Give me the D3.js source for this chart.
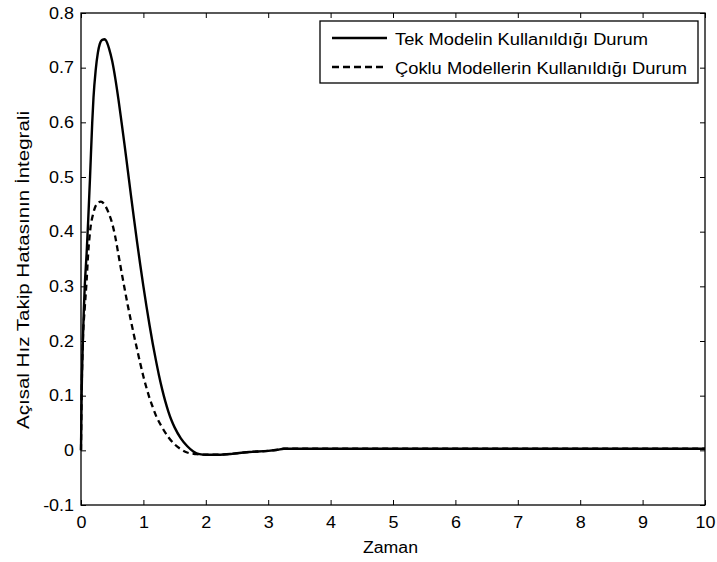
<!DOCTYPE html>
<html>
<head>
  <meta charset="utf-8">
  <title>Integral</title>
  <script src="https://d3js.org/d3.v7.min.js"></script>
  <style>
    body { margin: 0; background: #fff; }
    svg { font-family: "Liberation Sans", Arial, sans-serif; }
  </style>
</head>
<body>
<div id="chart"></div>
<script>
  // values
  var xTicks = [0, 1, 2, 3, 4, 5, 6, 7, 8, 9, 10];
  var yTicks = [-0.1, 0, 0.1, 0.2, 0.3, 0.4, 0.5, 0.6, 0.7, 0.8];
  var seriesNames = ["Tek Modelin Kullanıldığı Durum", "Çoklu Modellerin Kullanıldığı Durum"];

  var tekT = [0, 0.01, 0.03, 0.06, 0.09, 0.115, 0.145, 0.18, 0.2, 0.235, 0.27, 0.3, 0.34, 0.38, 0.4, 0.45, 0.5, 0.55, 0.6, 0.65, 0.7, 0.75, 0.8, 0.85, 0.9, 0.95, 1.0, 1.05, 1.1, 1.15, 1.2, 1.25, 1.3, 1.35, 1.4, 1.45, 1.5, 1.6, 1.7, 1.8, 1.9, 2.0, 2.2, 2.45, 2.7, 3.0, 3.15, 3.25, 10];
  var tekY = [0, 0.1, 0.2, 0.3, 0.36, 0.42, 0.5, 0.6, 0.645, 0.695, 0.727, 0.743, 0.751, 0.752, 0.75, 0.735, 0.712, 0.68, 0.642, 0.6, 0.557, 0.512, 0.467, 0.423, 0.38, 0.339, 0.3, 0.263, 0.228, 0.195, 0.165, 0.137, 0.112, 0.09, 0.071, 0.055, 0.042, 0.022, 0.008, -0.002, -0.007, -0.008, -0.008, -0.006, -0.003, -0.001, 0.001, 0.003, 0.003];

  var cokluT = [0, 0.01, 0.03, 0.06, 0.09, 0.115, 0.145, 0.2, 0.25, 0.32, 0.38, 0.44, 0.5, 0.55, 0.6, 0.65, 0.7, 0.75, 0.8, 0.85, 0.9, 0.95, 1.0, 1.05, 1.1, 1.15, 1.2, 1.3, 1.4, 1.5, 1.6, 1.7, 1.85, 2.0, 2.2, 2.45, 2.7, 3.0, 3.15, 3.25, 10];
  var cokluY = [0, 0.1, 0.2, 0.26, 0.31, 0.36, 0.4, 0.435, 0.45, 0.455, 0.449, 0.435, 0.415, 0.39, 0.358, 0.326, 0.295, 0.265, 0.237, 0.21, 0.184, 0.159, 0.135, 0.114, 0.095, 0.079, 0.064, 0.042, 0.024, 0.011, 0.002, -0.004, -0.007, -0.008, -0.008, -0.006, -0.003, -0.001, 0.001, 0.003, 0.003];

  var W = 717, H = 562;
  var pLeft = 81, pRight = 705, pTop = 13, pBottom = 505;
  var stretch = 1.12; // the original glyphs are a bit wider than Liberation Sans

  var svg = d3.select("#chart").append("svg")
    .attr("width", W)
    .attr("height", H);

  var x = d3.scaleLinear().domain([0, 10]).range([pLeft, pRight]);
  var y = d3.scaleLinear().domain([-0.1, 0.8]).range([pBottom, pTop]);

  function widen(sel, len) {
    sel.each(function () {
      var w = len || this.getComputedTextLength() * stretch;
      d3.select(this).attr("textLength", w).attr("lengthAdjust", "spacingAndGlyphs");
    });
  }

  // axes (matlab style, ticks inside, on all four sides)
  var fmt = function (d) { return String(Math.round(d * 10) / 10); };
  var tickLen = 5;

  svg.append("g")
    .attr("transform", "translate(0," + pBottom + ")")
    .call(d3.axisBottom(x).tickValues(xTicks).tickSize(-tickLen).tickPadding(11.5).tickFormat(fmt))
    .call(function (g) { g.select(".domain").remove(); });

  svg.append("g")
    .attr("transform", "translate(" + pLeft + ",0)")
    .call(d3.axisLeft(y).tickValues(yTicks).tickSize(-tickLen).tickPadding(7).tickFormat(fmt))
    .call(function (g) { g.select(".domain").remove(); });

  svg.append("g")
    .attr("transform", "translate(0," + pTop + ")")
    .call(d3.axisTop(x).tickValues(xTicks).tickSize(-tickLen).tickFormat(""))
    .call(function (g) { g.select(".domain").remove(); });

  svg.append("g")
    .attr("transform", "translate(" + pRight + ",0)")
    .call(d3.axisRight(y).tickValues(yTicks).tickSize(-tickLen).tickFormat(""))
    .call(function (g) { g.select(".domain").remove(); });

  svg.selectAll(".tick line").attr("stroke", "#000").attr("stroke-width", 1);
  svg.selectAll(".tick text")
    .attr("fill", "#000")
    .style("font-size", "16px")
    .style("font-family", "'Liberation Sans', Arial, sans-serif")
    .call(widen);

  svg.append("rect")
    .attr("x", pLeft).attr("y", pTop)
    .attr("width", pRight - pLeft).attr("height", pBottom - pTop)
    .attr("fill", "none").attr("stroke", "#000").attr("stroke-width", 1.3);

  // curves
  var line = d3.line()
    .x(function (d) { return x(d[0]); })
    .y(function (d) { return y(d[1]); })
    .curve(d3.curveMonotoneX);

  var tekData = tekT.map(function (t, i) { return [t, tekY[i]]; });
  var cokluData = cokluT.map(function (t, i) { return [t, cokluY[i]]; });

  svg.append("path")
    .datum(cokluData)
    .attr("d", line)
    .attr("fill", "none")
    .attr("stroke", "#000")
    .attr("stroke-width", 2.3)
    .attr("stroke-dasharray", "6,4");

  svg.append("path")
    .datum(tekData)
    .attr("d", line)
    .attr("fill", "none")
    .attr("stroke", "#000")
    .attr("stroke-width", 2.4);

  // axis labels
  svg.append("text")
    .attr("x", 390.5)
    .attr("y", 553)
    .attr("text-anchor", "middle")
    .style("font-size", "16px")
    .text("Zaman")
    .call(widen, 55);

  svg.append("text")
    .attr("transform", "translate(29,270) rotate(-90)")
    .attr("text-anchor", "middle")
    .style("font-size", "16px")
    .text("Açısal Hız Takip Hatasının İntegrali")
    .call(widen, 318);

  // legend
  var lg = svg.append("g");
  lg.append("rect")
    .attr("x", 320).attr("y", 21)
    .attr("width", 378).attr("height", 62)
    .attr("fill", "#fff").attr("stroke", "#000").attr("stroke-width", 1.3);

  var legendDash = [null, "7,4"];
  var legendLen = [253, 292];
  seriesNames.forEach(function (name, i) {
    var ly = 38 + i * 29;
    lg.append("line")
      .attr("x1", 332).attr("x2", 387)
      .attr("y1", ly).attr("y2", ly)
      .attr("stroke", "#000").attr("stroke-width", 2.3)
      .attr("stroke-dasharray", legendDash[i]);
    lg.append("text")
      .attr("x", 395).attr("y", ly + 7)
      .style("font-size", "16px")
      .text(name)
      .call(widen, legendLen[i]);
  });
</script>
</body>
</html>
